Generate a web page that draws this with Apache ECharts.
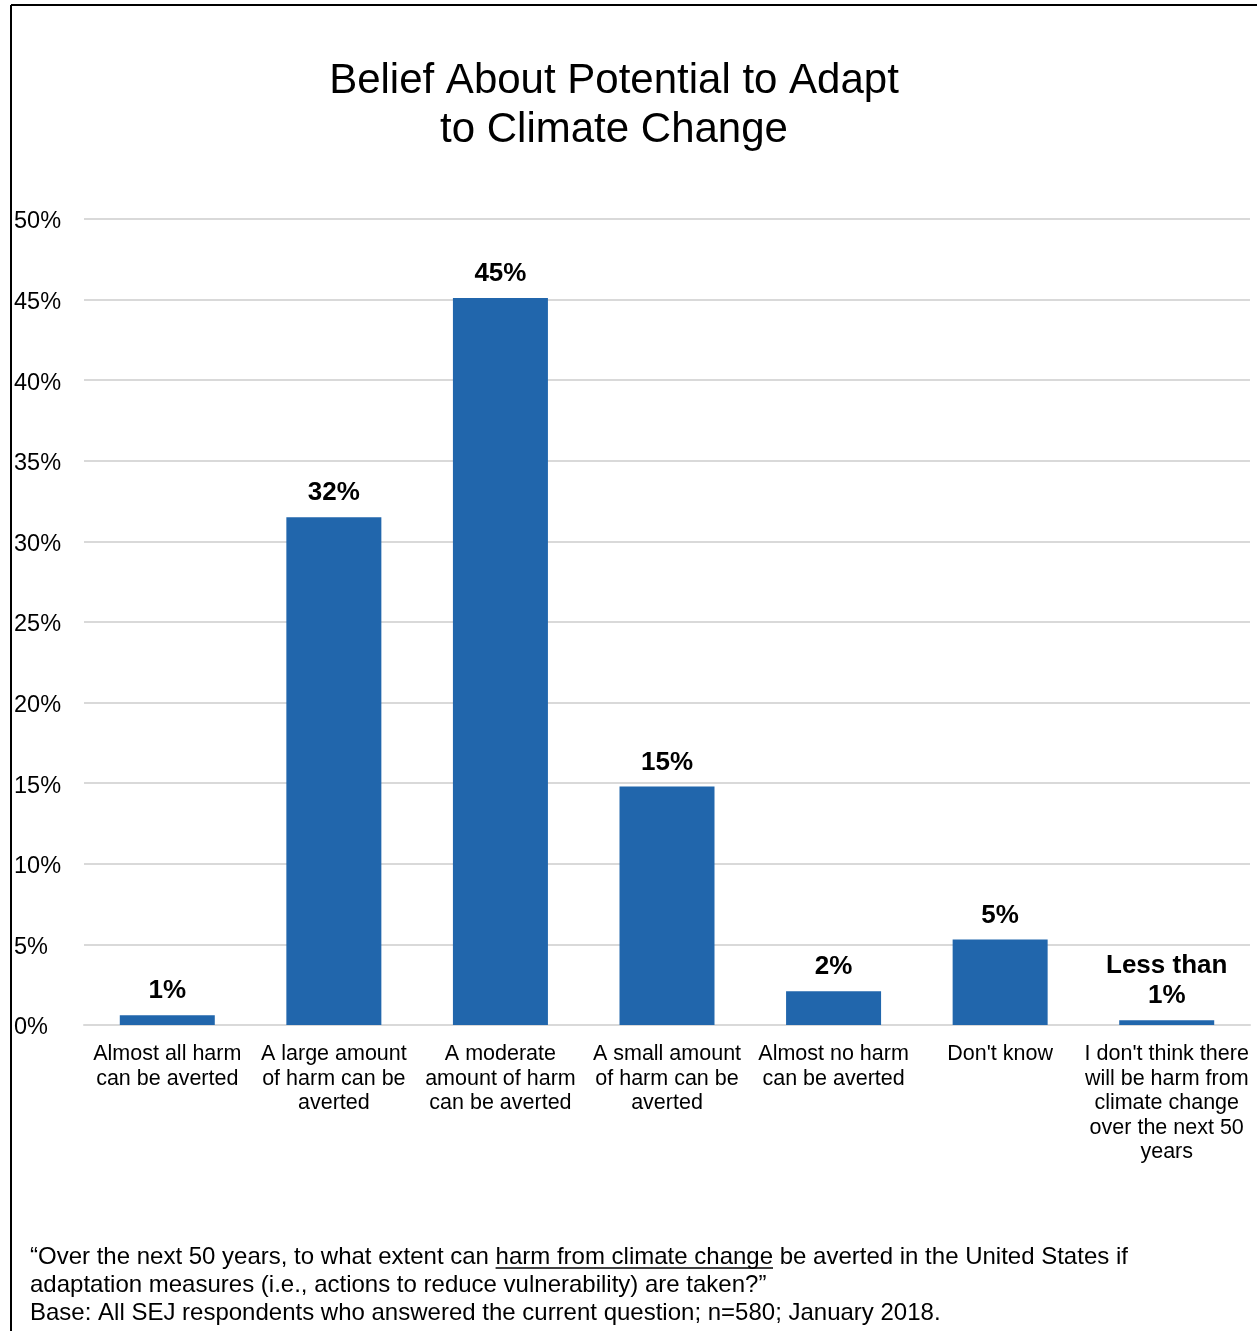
<!DOCTYPE html>
<html>
<head>
<meta charset="utf-8">
<script src="https://cdn.jsdelivr.net/npm/echarts@6/dist/echarts.min.js"></script>
<style>
html,body{margin:0;padding:0;background:#fff;}
#chart{width:1257px;height:1331px;}
</style>
</head>
<body>
<div id="chart"></div>
<script>
const categories = [
  "Almost all harm\ncan be averted",
  "A large amount\nof harm can be\naverted",
  "A moderate\namount of harm\ncan be averted",
  "A small amount\nof harm can be\naverted",
  "Almost no harm\ncan be averted",
  "Don't know",
  "I don't think there\nwill be harm from\nclimate change\nover the next 50\nyears"
];
const values = [0.6, 31.5, 45.1, 14.8, 2.1, 5.3, 0.3];
const valueLabels = ["1%", "32%", "45%", "15%", "2%", "5%", "Less than\n1%"];
const yTicks = [0, 5, 10, 15, 20, 25, 30, 35, 40, 45, 50];
const titleLines = ["Belief About Potential to Adapt", "to Climate Change"];
const footnoteLines = [
  ["“Over the next 50 years, to what extent can ", "harm from climate change", " be averted in the United States if"],
  ["adaptation measures (i.e., actions to reduce vulnerability) are taken?”"],
  ["Base: All SEJ respondents who answered the current question; n=580; January 2018."]
];

const FONT = "'Liberation Sans', Arial, sans-serif";
const chart = echarts.init(document.getElementById('chart'), null, {renderer: 'canvas'});

const fnSize = 24;
const fnX = 30;
const fnTops = [1245, 1273, 1301];
const graphics = [
  {type: 'line', shape: {x1: 11, y1: 5, x2: 1257, y2: 5}, style: {stroke: '#000', lineWidth: 2}},
  {type: 'line', shape: {x1: 11, y1: 5, x2: 11, y2: 1331}, style: {stroke: '#000', lineWidth: 2}},
  {type: 'text', x: 614, y: 57, style: {text: titleLines.join('\n'), font: '42px ' + FONT, fill: '#000', textAlign: 'center', textVerticalAlign: 'top', lineHeight: 49}}
];
const ctx = document.createElement('canvas').getContext('2d');
ctx.font = fnSize + 'px ' + FONT;
footnoteLines.forEach((parts, i) => {
  let x = fnX;
  parts.forEach((p, j) => {
    graphics.push({type: 'text', left: x, top: fnTops[i], style: {text: p, font: fnSize + 'px ' + FONT, fill: '#000'}});
    const w = ctx.measureText(p).width;
    if (i === 0 && j === 1) {
      graphics.push({type: 'line', shape: {x1: x, y1: fnTops[i] + fnSize - 1, x2: x + w, y2: fnTops[i] + fnSize - 1}, style: {stroke: '#000', lineWidth: 1.5}});
    }
    x += w;
  });
});

chart.setOption({
  animation: false,
  backgroundColor: '#fff',
  grid: {left: 84, right: 7, top: 219, bottom: 306, containLabel: false},
  xAxis: {
    type: 'category',
    data: categories,
    axisLine: {show: true, lineStyle: {color: '#d9d9d9', width: 2}},
    axisTick: {show: false},
    axisLabel: {interval: 0, fontFamily: FONT, fontSize: 21.5, color: '#000', lineHeight: 24.5, margin: 17}
  },
  yAxis: {
    type: 'value',
    min: 0, max: 50, interval: 5,
    axisLine: {show: false},
    axisTick: {show: false},
    splitLine: {lineStyle: {color: '#d9d9d9', width: 2}},
    axisLabel: {
      color: '#000', align: 'left', margin: 70,
      formatter: v => yTicks.includes(v) ? '{t|' + v + '%}' : '',
      rich: {t: {fontFamily: FONT, fontSize: 23.5, color: '#000', padding: [6, 0, 0, 0]}}
    }
  },
  series: [{
    type: 'bar',
    data: values,
    barWidth: 95,
    itemStyle: {color: '#2166ac'},
    label: {
      show: true, position: 'top', distance: 9,
      fontFamily: FONT, fontSize: 26, fontWeight: 'bold', color: '#000', lineHeight: 30,
      formatter: p => valueLabels[p.dataIndex]
    }
  }],
  graphic: graphics
});
</script>
</body>
</html>
